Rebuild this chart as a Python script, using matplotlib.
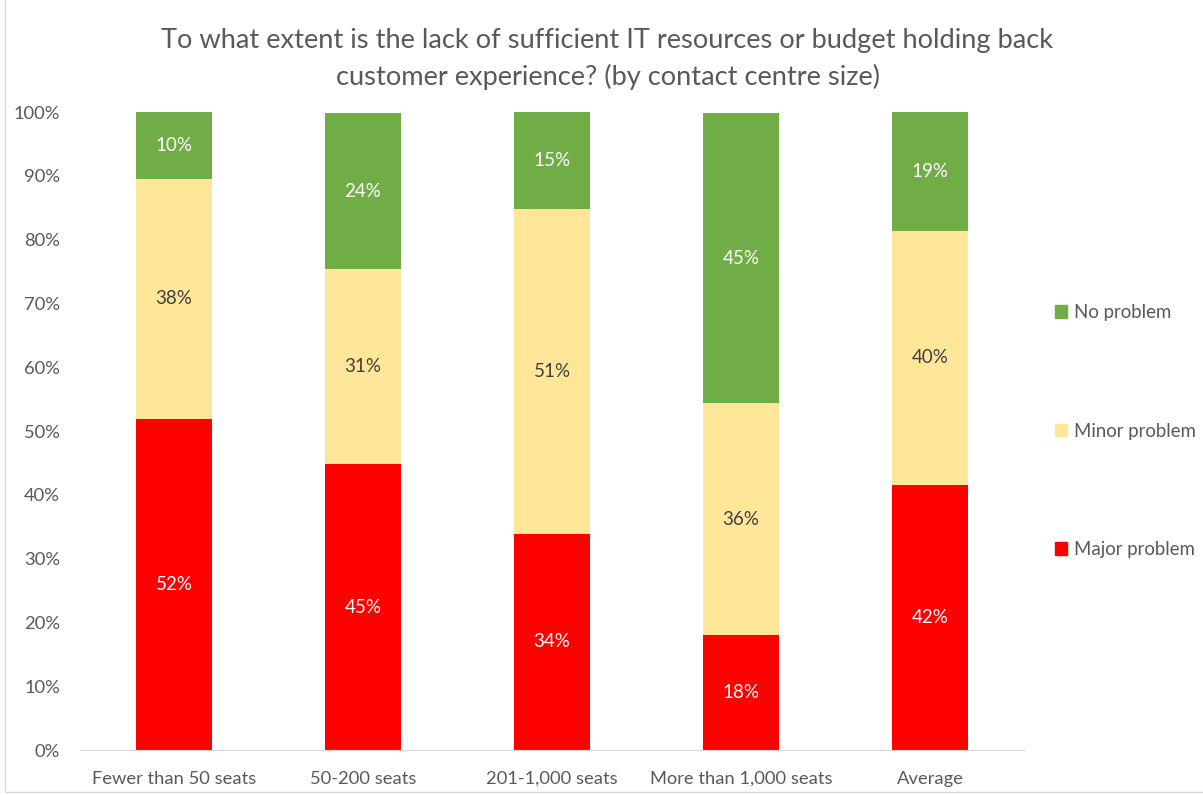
import matplotlib
matplotlib.use("Agg")
import matplotlib.pyplot as plt
from matplotlib.patches import Rectangle, Patch

categories = ["Fewer than 50 seats", "50-200 seats", "201-1,000 seats",
              "More than 1,000 seats", "Average"]
major = [51.9, 44.8, 33.9, 18.0, 41.6]
minor = [37.6, 30.6, 50.9, 36.4, 39.7]
no_problem = [10.5, 24.4, 15.2, 45.4, 18.7]

series_names = ["Major problem", "Minor problem", "No problem"]
colors = ["#FF0000", "#FFE699", "#70AD47"]
label_colors = ["white", "#404040", "white"]
text_grey = "#595959"

plt.rcParams["font.family"] = ["Lato", "DejaVu Sans"]

fig = plt.figure(figsize=(12.03, 7.95), dpi=100)
ax = fig.add_axes([0.0661, 0.0566, 0.7855, 0.8025])

x = range(len(categories))
bottom = [0.0] * len(categories)
for vals, name, c, lc in zip([major, minor, no_problem], series_names, colors, label_colors):
    bars = ax.bar(x, vals, bottom=bottom, width=0.40, color=c, label=name)
    ax.bar_label(bars, labels=[f"{v:.0f}%" for v in vals], label_type="center",
                 color=lc, fontsize=13.5)
    bottom = [b + v for b, v in zip(bottom, vals)]

ax.set_xlim(-0.5, len(categories) - 0.5)
ax.set_ylim(0, 100)
ax.set_yticks(range(0, 101, 10))
ax.set_yticklabels([f"{t}%" for t in range(0, 101, 10)])
ax.set_xticks(list(x))
ax.set_xticklabels(categories)
ax.tick_params(axis="both", length=0, labelsize=13.2, colors=text_grey)
ax.tick_params(axis="y", pad=14)
ax.tick_params(axis="x", pad=15)
for s in ["top", "right", "left"]:
    ax.spines[s].set_visible(False)
ax.spines["bottom"].set_color("#D9D9D9")

handles = [Patch(color=c) for c in colors][::-1]
ax.legend(handles, series_names[::-1], loc="center left", bbox_to_anchor=(1.015, 0.5),
          frameon=False, fontsize=13.4, labelcolor=text_grey, labelspacing=5.45,
          handlelength=0.65, handleheight=0.65, handletextpad=0.35)

fig.text(0.505, 0.949, "To what extent is the lack of sufficient IT resources or budget holding back",
         ha="center", va="center", fontsize=19.6, color=text_grey)
fig.text(0.505, 0.903, "customer experience? (by contact centre size)",
         ha="center", va="center", fontsize=19.6, color=text_grey)

fig.patches.append(Rectangle((5 / 1203, 3 / 795), 1.2, 1.2, transform=fig.transFigure,
                             fill=False, edgecolor="#D9D9D9", linewidth=1))

fig.savefig("out.png", dpi=100)
